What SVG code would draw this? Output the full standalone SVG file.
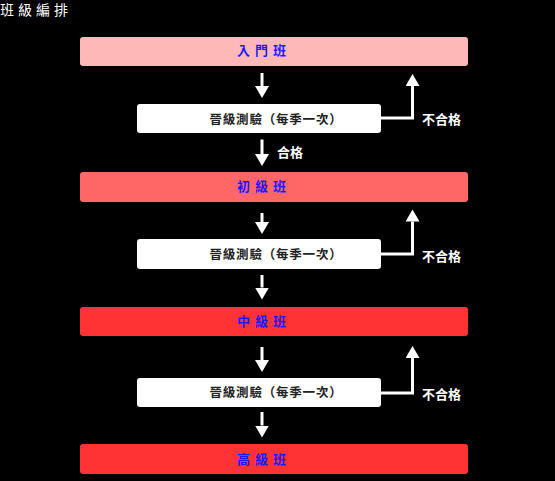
<svg xmlns="http://www.w3.org/2000/svg" width="555" height="481" viewBox="0 0 555 481">
<defs>
<marker id="ah" viewBox="0 0 12 14" refX="0" refY="7" markerWidth="12" markerHeight="14" markerUnits="userSpaceOnUse" orient="auto">
<path d="M0,0 L12,7 L0,14 Z" fill="#ffffff"/>
</marker>
<style>
.t{font-family:"Noto Sans CJK TC","Noto Sans CJK SC",sans-serif}
.cls{font-size:13px;font-weight:bold;fill:#1a1aff;letter-spacing:5px}
.test{font-size:12.5px;font-weight:bold;fill:#222222;letter-spacing:0.8px}
.lbl{font-size:13px;font-weight:bold;fill:#ffffff}
.ln{stroke:#ffffff;stroke-width:3;fill:none;marker-end:url(#ah)}
</style>
</defs>
<rect width="555" height="481" fill="#000000"/>
<text class="t" x="0" y="15" font-size="14" fill="#ffffff" letter-spacing="4">班級編排</text>

<g id="n1"><rect x="80" y="37" width="388" height="29" rx="3" fill="#ffb8b8"/><text class="t cls" x="237" y="55">入門班</text></g>
<g id="t1"><rect x="137" y="104" width="244" height="29" rx="3" fill="#ffffff"/><text class="t test" x="209.5" y="123.5">晉級測驗（每季一次）</text></g>
<g id="n2"><rect x="80" y="172" width="388" height="30" rx="3" fill="#ff6666"/><text class="t cls" x="237" y="191">初級班</text></g>
<g id="t2"><rect x="137" y="239" width="244" height="30" rx="3" fill="#ffffff"/><text class="t test" x="209.5" y="259">晉級測驗（每季一次）</text></g>
<g id="n3"><rect x="80" y="307" width="388" height="29" rx="3" fill="#ff3333"/><text class="t cls" x="237" y="326">中級班</text></g>
<g id="t3"><rect x="137" y="378" width="244" height="29" rx="3" fill="#ffffff"/><text class="t test" x="209.5" y="397">晉級測驗（每季一次）</text></g>
<g id="n4"><rect x="80" y="444" width="388" height="30" rx="3" fill="#ff3333"/><text class="t cls" x="237" y="464">高級班</text></g>

<g id="connectors">
<line class="ln" x1="262" y1="73" x2="262" y2="86"/>
<line class="ln" x1="262" y1="139.5" x2="262" y2="154"/>
<line class="ln" x1="262" y1="213" x2="262" y2="222"/>
<line class="ln" x1="262" y1="275" x2="262" y2="287.5"/>
<line class="ln" x1="262" y1="347" x2="262" y2="360"/>
<line class="ln" x1="262" y1="412" x2="262" y2="425.5"/>
<path class="ln" d="M381,118 H412.5 V86"/>
<path class="ln" d="M381,254 H412.5 V221.5"/>
<path class="ln" d="M381,393 H412.5 V358"/>
<text class="t lbl" x="277" y="157">合格</text>
<text class="t lbl" x="422" y="124">不合格</text>
<text class="t lbl" x="422" y="261">不合格</text>
<text class="t lbl" x="422" y="399">不合格</text>
</g>
</svg>
